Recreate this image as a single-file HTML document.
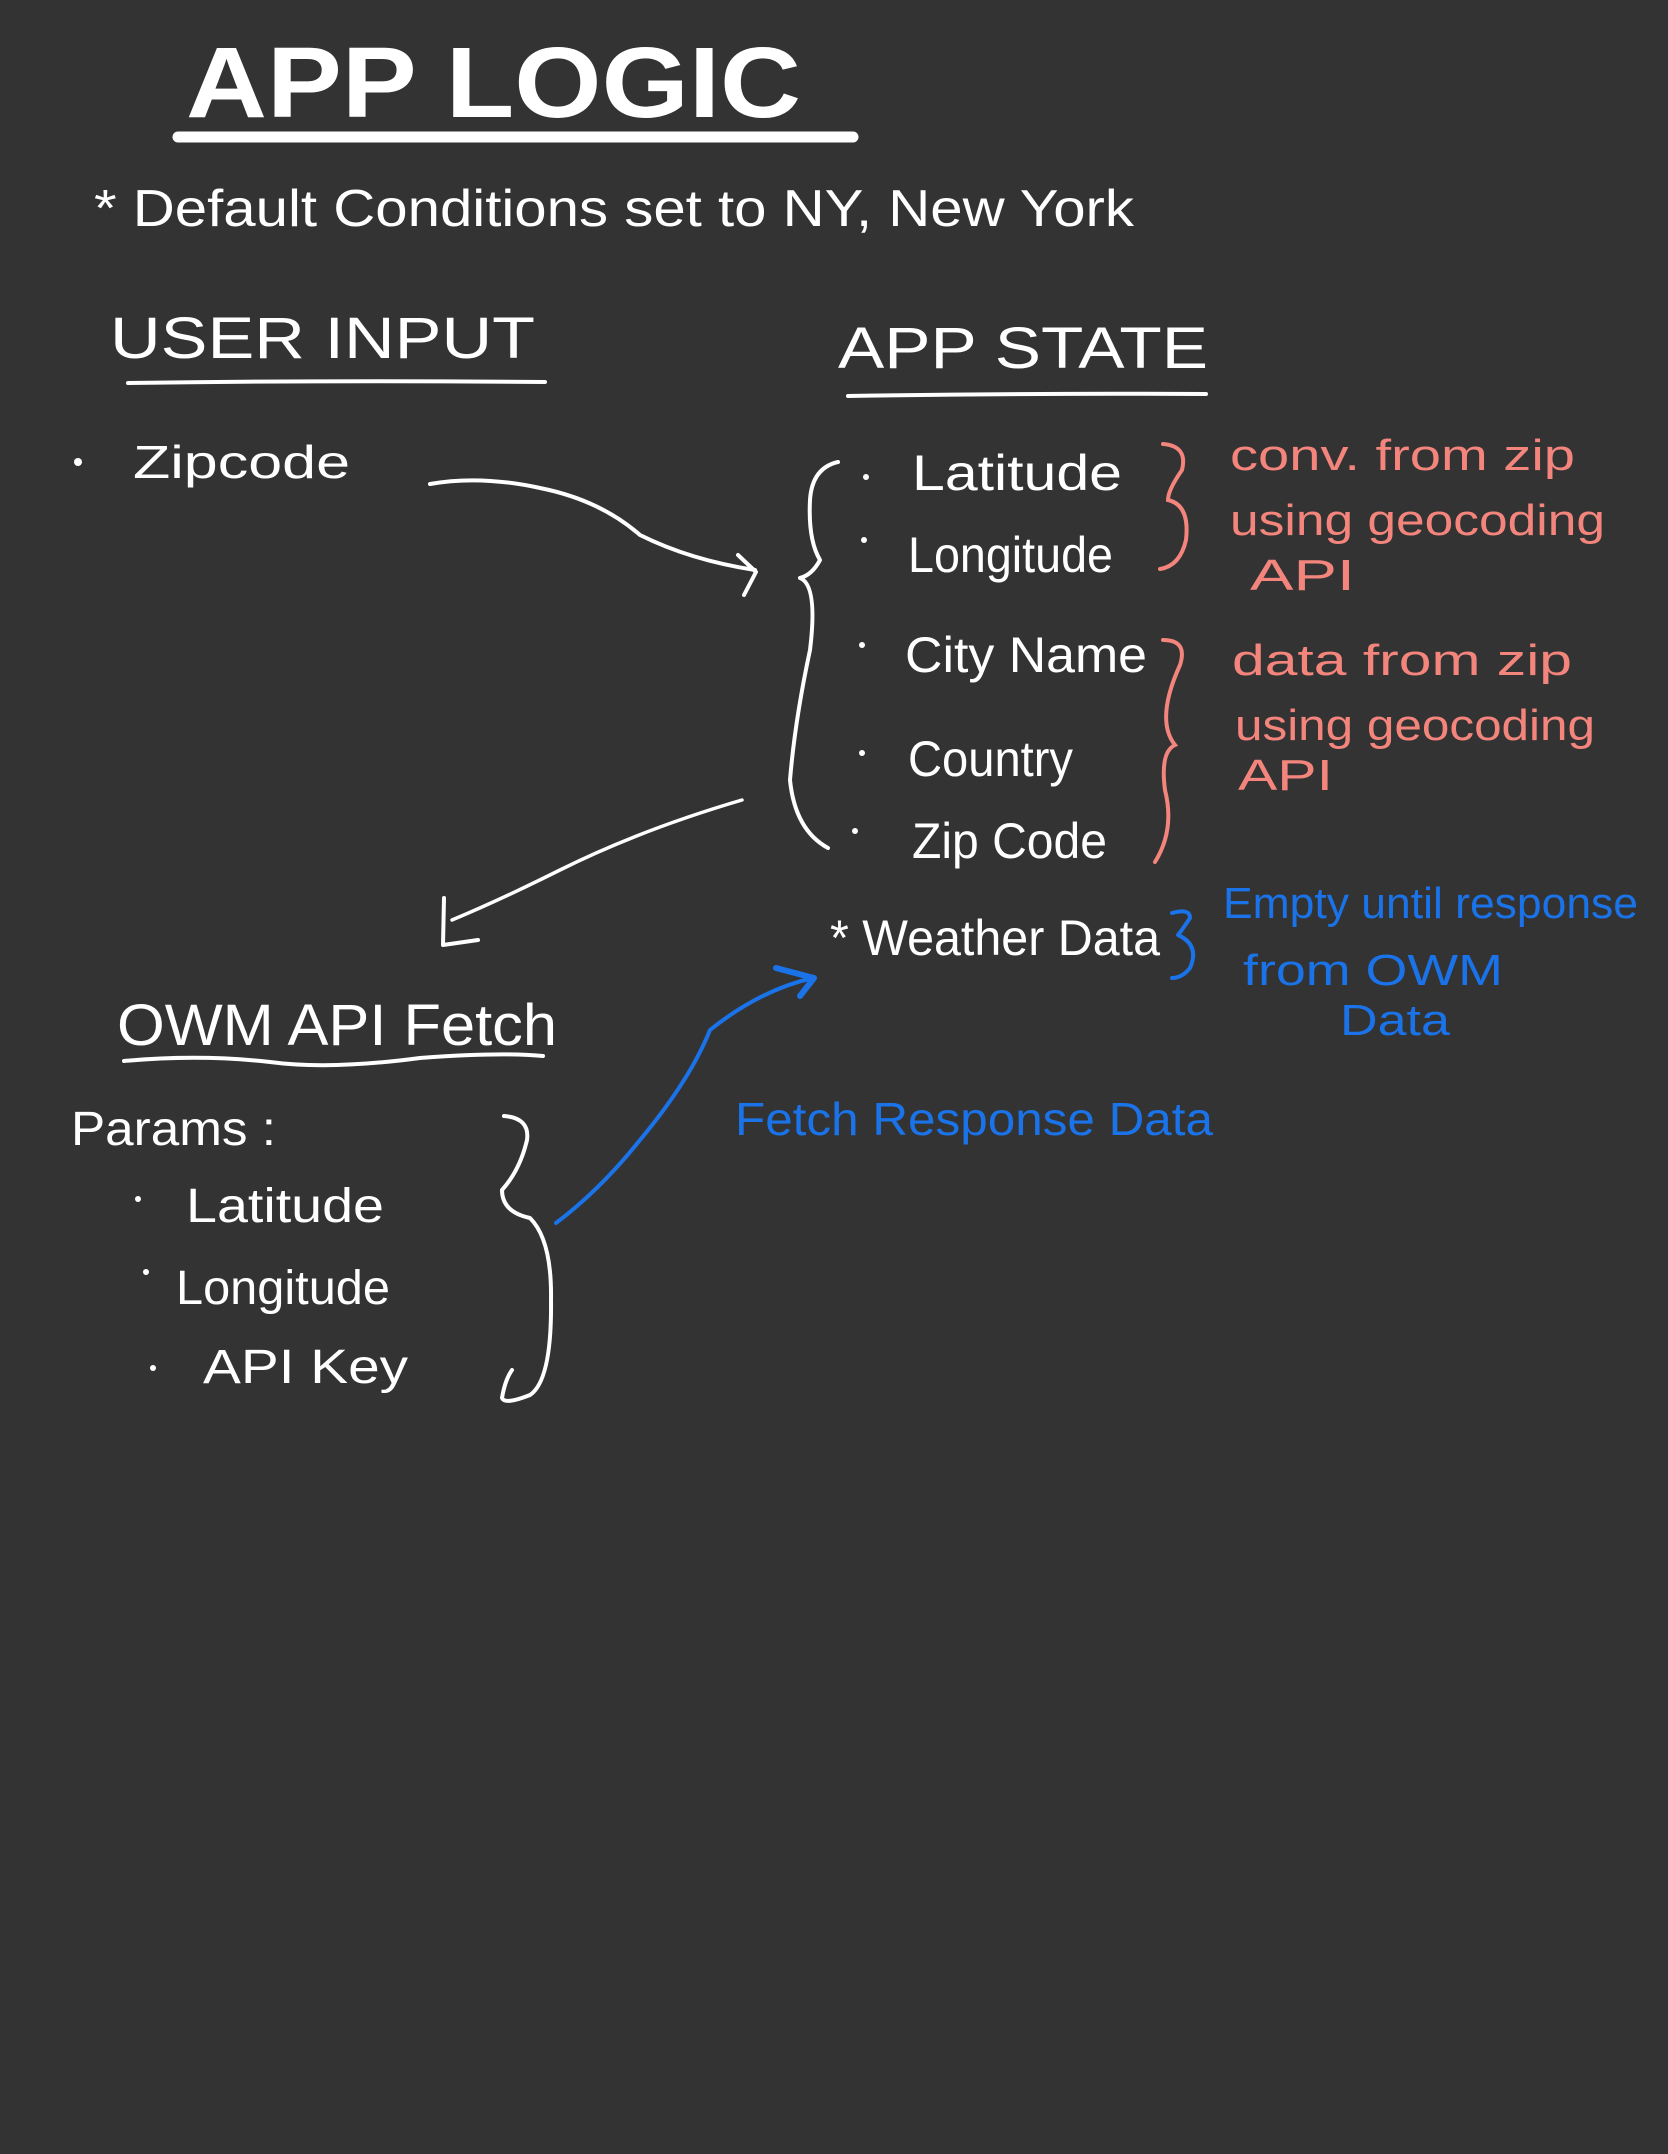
<!DOCTYPE html>
<html><head><meta charset="utf-8"><style>
html,body{margin:0;padding:0;background:#333333;}
svg{display:block}
text{font-family:"Liberation Sans Narrow","Liberation Sans",sans-serif;}
</style></head><body>
<svg width="1668" height="2154" viewBox="0 0 1668 2154" xmlns="http://www.w3.org/2000/svg">
<rect width="1668" height="2154" fill="#333333"/>
<g fill="#ffffff">
<text x="186" y="117" font-size="100" font-weight="bold" textLength="615" lengthAdjust="spacingAndGlyphs">APP LOGIC</text>
<text x="94" y="226" font-size="52" textLength="1040" lengthAdjust="spacingAndGlyphs">* Default Conditions  set  to   NY, New York</text>
<text x="110" y="358" font-size="58" textLength="425" lengthAdjust="spacingAndGlyphs">USER INPUT</text>
<text x="838" y="368" font-size="58" textLength="370" lengthAdjust="spacingAndGlyphs">APP  STATE</text>
<circle cx="78" cy="462" r="4"/>
<text x="133" y="478" font-size="46" textLength="217" lengthAdjust="spacingAndGlyphs">Zipcode</text>
<text x="912" y="490" font-size="50" textLength="210" lengthAdjust="spacingAndGlyphs">Latitude</text>
<text x="908" y="572" font-size="50" textLength="205" lengthAdjust="spacingAndGlyphs">Longitude</text>
<text x="905" y="672" font-size="50" textLength="242" lengthAdjust="spacingAndGlyphs">City Name</text>
<text x="908" y="776" font-size="50" textLength="165" lengthAdjust="spacingAndGlyphs">Country</text>
<text x="912" y="858" font-size="50" textLength="195" lengthAdjust="spacingAndGlyphs">Zip Code</text>
<circle cx="866" cy="477" r="3"/><circle cx="864" cy="540" r="3"/><circle cx="862" cy="645" r="3"/><circle cx="862" cy="753" r="3"/><circle cx="855" cy="831" r="3"/>
<text x="830" y="955" font-size="50" textLength="330" lengthAdjust="spacingAndGlyphs">* Weather Data</text>
<text x="117" y="1045" font-size="58" textLength="440" lengthAdjust="spacingAndGlyphs">OWM  API  Fetch</text>
<text x="71" y="1145" font-size="48" textLength="205" lengthAdjust="spacingAndGlyphs">Params :</text>
<circle cx="138" cy="1199" r="3"/><circle cx="146" cy="1272" r="3"/><circle cx="153" cy="1368" r="3"/>
<text x="186" y="1222" font-size="48" textLength="198" lengthAdjust="spacingAndGlyphs">Latitude</text>
<text x="176" y="1304" font-size="48" textLength="214" lengthAdjust="spacingAndGlyphs">Longitude</text>
<text x="203" y="1383" font-size="48" textLength="205" lengthAdjust="spacingAndGlyphs">API  Key</text>
</g>
<g fill="#f4857d">
<text x="1230" y="470" font-size="44" textLength="345" lengthAdjust="spacingAndGlyphs">conv. from zip</text>
<text x="1230" y="535" font-size="44" textLength="375" lengthAdjust="spacingAndGlyphs">using geocoding</text>
<text x="1250" y="590" font-size="44" textLength="105" lengthAdjust="spacingAndGlyphs">API</text>
<text x="1232" y="675" font-size="44" textLength="340" lengthAdjust="spacingAndGlyphs">data from zip</text>
<text x="1235" y="740" font-size="44" textLength="360" lengthAdjust="spacingAndGlyphs">using geocoding</text>
<text x="1238" y="790" font-size="44" textLength="95" lengthAdjust="spacingAndGlyphs">API</text>
</g>
<g fill="#1a73e8">
<text x="1223" y="918" font-size="44" textLength="415" lengthAdjust="spacingAndGlyphs">Empty until response</text>
<text x="1243" y="985" font-size="44" textLength="260" lengthAdjust="spacingAndGlyphs">from OWM</text>
<text x="1340" y="1035" font-size="44" textLength="110" lengthAdjust="spacingAndGlyphs">Data</text>
<text x="735" y="1135" font-size="46" textLength="478" lengthAdjust="spacingAndGlyphs">Fetch Response Data</text>
</g>
<g fill="none" stroke="#ffffff" stroke-linecap="round" stroke-linejoin="round">
<line x1="178" y1="137" x2="853" y2="137" stroke-width="11"/>
<path d="M128 383 Q330 380 545 382" stroke-width="4"/>
<path d="M848 396 Q1030 393 1206 394" stroke-width="4"/>
<path d="M124 1061 Q200 1054 270 1062 Q330 1070 420 1058 Q500 1052 543 1056" stroke-width="4"/>
<path d="M430 484 Q480 475 540 488 Q600 500 640 535 Q690 560 755 570" stroke-width="4"/>
<path d="M738 555 L756 572 L744 595" stroke-width="4"/>
<path d="M838 462 Q812 468 810 500 Q808 540 820 560 Q812 575 800 578 Q818 585 810 650 Q795 720 790 780 Q795 830 828 848" stroke-width="4"/>
<path d="M742 800 Q640 830 560 870 Q500 900 452 920" stroke-width="3.5"/>
<path d="M444 898 L443 945 L478 940" stroke-width="4"/>
<path d="M504 1116 Q530 1118 527 1140 Q520 1170 502 1190 Q502 1212 530 1218 Q552 1240 551 1300 Q552 1380 530 1395 Q505 1405 502 1398 Q505 1380 512 1370" stroke-width="4"/>
</g>
<g fill="none" stroke="#f4857d" stroke-width="4" stroke-linecap="round">
<path d="M1163 444 Q1188 446 1182 470 Q1168 490 1168 500 Q1190 505 1186 540 Q1180 566 1160 569"/>
<path d="M1163 640 Q1188 640 1180 665 Q1155 720 1175 745 Q1160 752 1165 790 Q1175 830 1155 862"/>
</g>
<g fill="none" stroke="#1a73e8" stroke-linecap="round" stroke-linejoin="round">
<path d="M1172 913 Q1190 908 1190 918 Q1182 930 1178 935 Q1200 945 1190 968 Q1182 978 1172 978" stroke-width="4"/>
<path d="M556 1223 Q600 1190 640 1140 Q690 1080 710 1030 Q760 990 813 978" stroke-width="4"/>
<path d="M776 968 L814 978 L800 996" stroke-width="6"/>
</g>
</svg>
</body></html>
